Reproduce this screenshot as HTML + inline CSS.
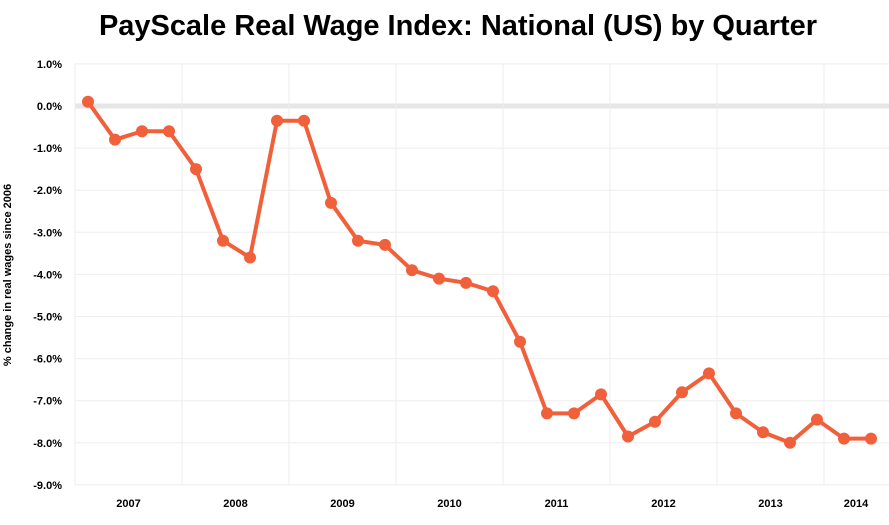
<!DOCTYPE html>
<html><head><meta charset="utf-8"><style>
body{margin:0;background:#fff;font-family:"Liberation Sans",sans-serif;}
</style></head><body>
<svg width="889" height="520" xmlns="http://www.w3.org/2000/svg">
<text x="458" y="35" text-anchor="middle" font-size="29" font-weight="bold" fill="#000" textLength="718">PayScale Real Wage Index: National (US) by Quarter</text>
<text transform="translate(11,275) rotate(-90)" text-anchor="middle" font-size="11" font-weight="bold">% change in real wages since 2006</text>
<g id="grid"></g><g id="series"></g>
</svg>
<script>
const values=[0.1,-0.8,-0.6,-0.6,-1.5,-3.2,-3.6,-0.35,-0.35,-2.3,-3.2,-3.3,-3.9,-4.1,-4.2,-4.4,-5.6,-7.3,-7.3,-6.85,-7.85,-7.5,-6.8,-6.35,-7.3,-7.75,-8.0,-7.45,-7.9,-7.9];
const yTicks=[1,0,-1,-2,-3,-4,-5,-6,-7,-8,-9];
const years=["2007","2008","2009","2010","2011","2012","2013","2014"];
const NS="http://www.w3.org/2000/svg";
function y(v){return 106-v*42.1;}
function x(i){return 88+i*27.0;}
function mk(t,a,p){const e=document.createElementNS(NS,t);for(const k in a)e.setAttribute(k,a[k]);p.appendChild(e);return e;}
const g=document.getElementById('grid'),s=document.getElementById('series');
yTicks.forEach(v=>{
 const l=mk('line',{x1:75,x2:889,y1:y(v),y2:y(v),stroke:v===0?'#e6e6e6':'#eeeeee','stroke-width':v===0?5:1},g);
 
 
 const t=mk('text',{x:62,y:y(v)+4,'text-anchor':'end','font-size':11,'font-weight':'bold'},g);
 t.textContent=v.toFixed(1)+'%';
 
 
});
for(let k=0;k<8;k++){
 const gx=75+107*k;
 const l=mk('line',{x1:gx,x2:gx,y1:y(1),y2:y(-9),stroke:'#eeeeee','stroke-width':1},g);
 
 
}
years.forEach((yr,k)=>{
 const cx=k<7?75+107*k+53.5:856;
 const t=mk('text',{x:cx,y:507,'text-anchor':'middle','font-size':11,'font-weight':'bold'},g);
 t.textContent=yr;
 
 
});
const pl=mk('polyline',{points:values.map((v,i)=>x(i)+','+y(v)).join(' '),fill:'none',stroke:'#f0603a','stroke-width':4,'stroke-linejoin':'round'},s);


values.forEach((v,i)=>{
 const c=mk('circle',{cx:x(i),cy:y(v),r:6,fill:'#f0603a'},s);
 
 
});
</script>
</body></html>
